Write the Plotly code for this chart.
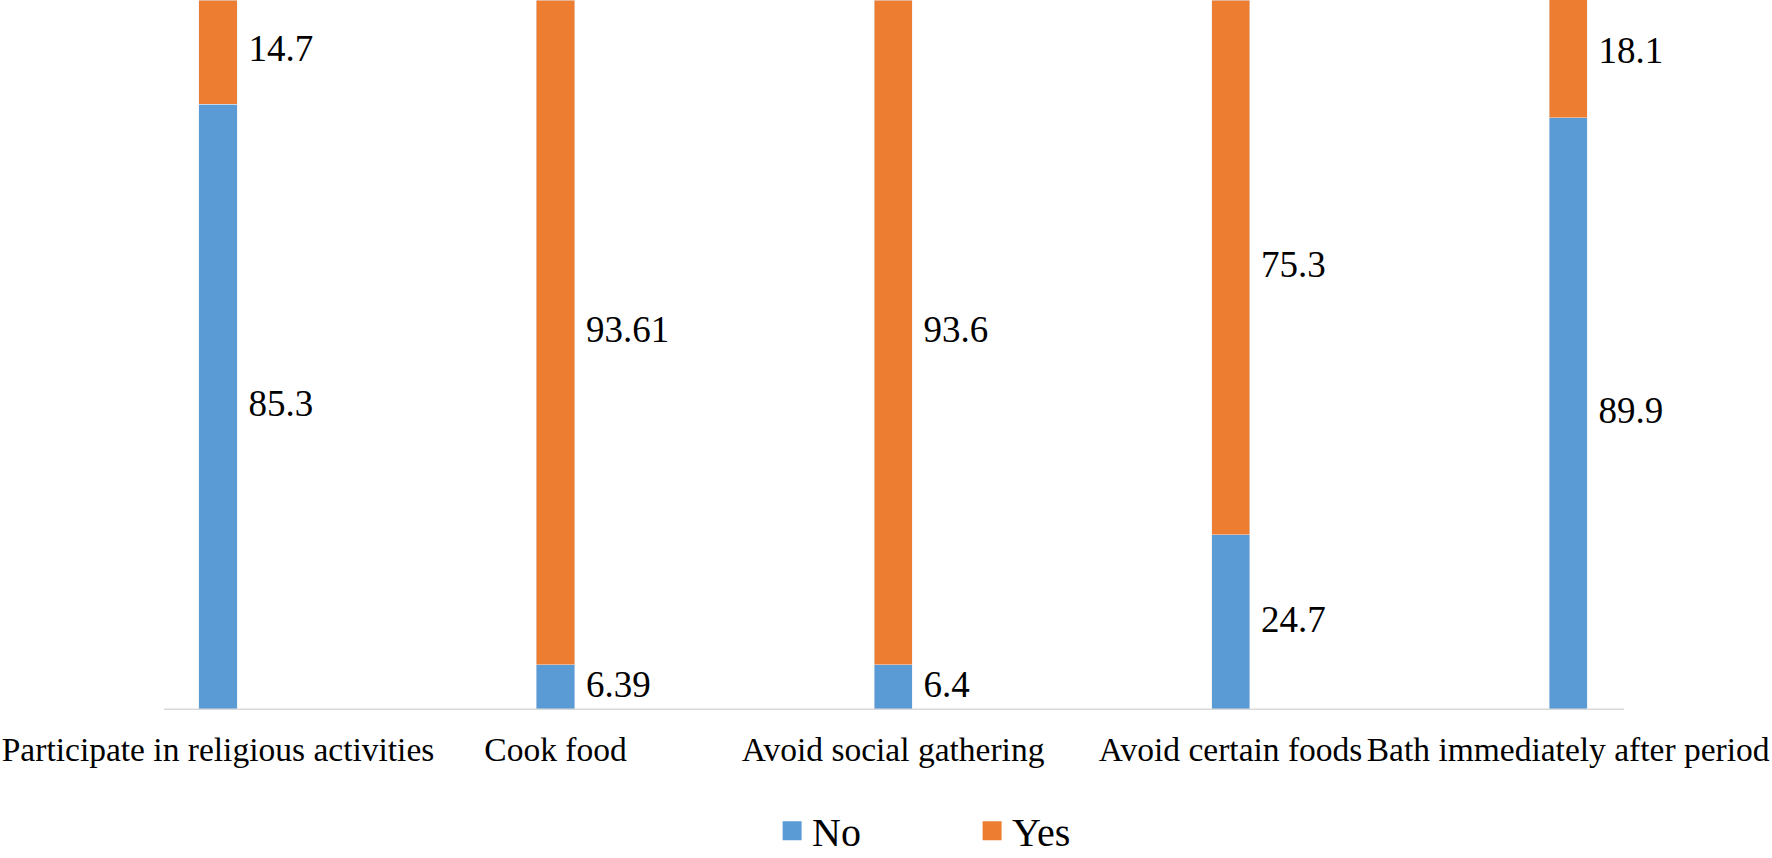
import plotly.graph_objects as go

categories = ["Participate in religious activities", "Cook food", "Avoid social gathering",
              "Avoid certain foods", "Bath immediately after period"]
no_values = [85.3, 6.39, 6.4, 24.7, 83.4]
yes_values = [14.7, 93.61, 93.6, 75.3, 18.1]
no_labels = ["85.3", "6.39", "6.4", "24.7", "89.9"]
yes_labels = ["14.7", "93.61", "93.6", "75.3", "18.1"]

BLUE = "#5B9BD5"
ORANGE = "#ED7D31"
FONT = "Liberation Serif, Times New Roman, serif"

xs = list(range(len(categories)))
fig = go.Figure()
fig.add_trace(go.Bar(x=xs, y=no_values, name="No", marker_color=BLUE, width=0.113,
                     showlegend=False, hoverinfo="skip"))
fig.add_trace(go.Bar(x=xs, y=yes_values, name="Yes", marker_color=ORANGE, width=0.113,
                     showlegend=False, hoverinfo="skip"))

# data labels to the right of each segment
off = 0.09
no_mid = [v / 2 for v in no_values]
yes_mid = [n + y / 2 for n, y in zip(no_values, yes_values)]
fig.add_trace(go.Scatter(x=[x + off for x in xs], y=no_mid, mode="text", text=no_labels,
                         textposition="middle right", showlegend=False, hoverinfo="skip",
                         textfont=dict(family=FONT, size=37, color="black"), cliponaxis=False))
fig.add_trace(go.Scatter(x=[x + off for x in xs], y=yes_mid, mode="text", text=yes_labels,
                         textposition="middle right", showlegend=False, hoverinfo="skip",
                         textfont=dict(family=FONT, size=37, color="black"), cliponaxis=False))

# legend entries
fig.add_trace(go.Scatter(x=[None], y=[None], mode="markers", name="No",
                         marker=dict(symbol="square", size=16, color=BLUE,
                                     line=dict(color=BLUE, width=3))))
fig.add_trace(go.Scatter(x=[None], y=[None], mode="markers", name="Yes",
                         marker=dict(symbol="square", size=16, color=ORANGE,
                                     line=dict(color=ORANGE, width=3))))

fig.add_shape(type="line", xref="x", yref="y", x0=-0.16, x1=4.166, y0=0, y1=0,
              line=dict(color="#D9D9D9", width=3), layer="above")

fig.update_layout(
    width=1772, height=858,
    margin=dict(l=0, r=0, t=0, b=148, autoexpand=False),
    paper_bgcolor="white", plot_bgcolor="white",
    barmode="stack",
    font=dict(family=FONT, color="black"),
    xaxis=dict(range=[-0.646, 4.604], tickvals=xs, ticktext=categories, tickangle=0,
               showgrid=False, zeroline=False, showline=False, ticks="",
               automargin=False, ticklabeloverflow="allow", ticklabelstandoff=16,
               tickfont=dict(family=FONT, size=33.5, color="black")),
    yaxis=dict(range=[0, 100], visible=False, showgrid=False, zeroline=False, automargin=False),
    legend=dict(orientation="h", x=0.5486, xanchor="center", y=-0.170, yanchor="middle",
                traceorder="normal",
                font=dict(family=FONT, size=40, color="black"),
                itemsizing="trace", entrywidth=155, entrywidthmode="pixels"),
)

fig.write_html("out.html", config={"displayModeBar": False},
               post_script="document.body.style.margin='0';")
